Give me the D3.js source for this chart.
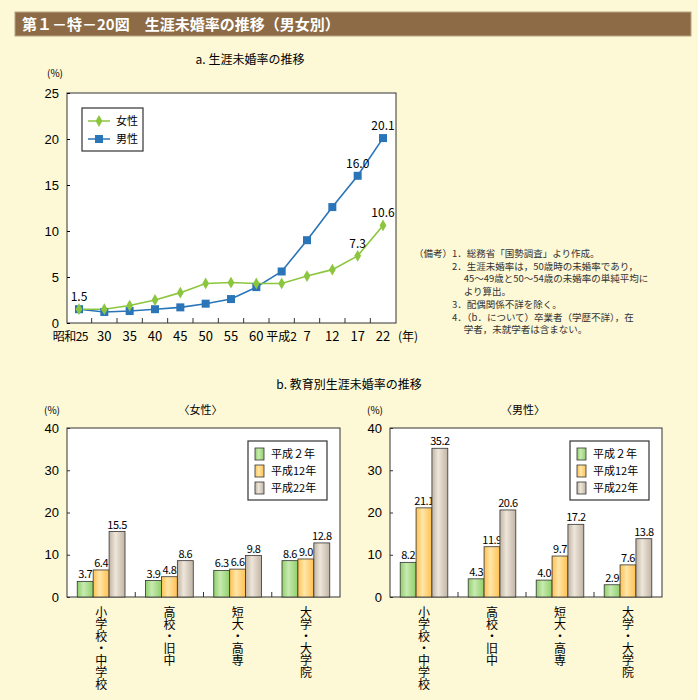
<!DOCTYPE html>
<html><head><meta charset="utf-8">
<script src="https://cdn.jsdelivr.net/npm/d3@7"></script>
<style>
body{margin:0;background:#fdf8d6;}
svg{font-family:"Noto Sans CJK JP","Noto Sans",sans-serif;}
</style></head>
<body><svg id="c" width="698" height="700"></svg>
<script>
const years = ["昭和25","30","35","40","45","50","55","60","平成2","7","12","17","22"];
const female = [1.5,1.5,1.9,2.5,3.3,4.3,4.4,4.3,4.3,5.1,5.8,7.3,10.6];
const male = [1.5,1.2,1.3,1.5,1.7,2.1,2.6,3.9,5.6,9.0,12.6,16.0,20.1];
const eduCats = ["小学校・中学校","高校・旧中","短大・高専","大学・大学院"];
const barSeries = ["平成２年","平成12年","平成22年"];
const femaleEdu = [[3.7,6.4,15.5],[3.9,4.8,8.6],[6.3,6.6,9.8],[8.6,9.0,12.8]];
const maleEdu = [[8.2,21.1,35.2],[4.3,11.9,20.6],[4.0,9.7,17.2],[2.9,7.6,13.8]];
const noteLines = [
 ["（備考）","1．総務省「国勢調査」より作成。"],
 ["","2．生涯未婚率は，50歳時の未婚率であり，"],
 ["","　 45～49歳と50～54歳の未婚率の単純平均に"],
 ["","　 より算出。"],
 ["","3．配偶関係不詳を除く。"],
 ["","4．（b．について）卒業者（学歴不詳），在"],
 ["","　 学者，未就学者は含まない。"]];

const svg = d3.select("#c");
const defs = svg.append("defs");
const barColors = [["#5a9a3a","#c8eab0","#8fcf6a"],["#e08a10","#ffe6a8","#ffc050"],["#7a6a58","#eee6da","#c0b4a4"]];
barColors.forEach((c,i)=>{
  const g = defs.append("linearGradient").attr("id","g"+i);
  g.append("stop").attr("offset","0%").attr("stop-color",c[2]);
  g.append("stop").attr("offset","40%").attr("stop-color",c[1]);
  g.append("stop").attr("offset","100%").attr("stop-color",c[2]);
});

// title bar
svg.append("rect").attr("x",15).attr("y",12).attr("width",676).attr("height",24).attr("fill","#8c6b46").attr("stroke","#b9a385");
svg.append("text").attr("x",22).attr("y",30).attr("fill","#fff").attr("font-size",15).attr("font-weight","bold")
  .text("第１－特－20図　生涯未婚率の推移（男女別）");

// ---- line chart
const lx = d3.scalePoint().domain(years).range([79,383]);
const ly = d3.scaleLinear().domain([0,25]).range([323,93]);
svg.append("text").attr("x",250).attr("y",64).attr("text-anchor","middle").attr("font-size",12).text("a.  生涯未婚率の推移");
svg.append("rect").attr("x",67).attr("y",93).attr("width",329).attr("height",230).attr("fill","#fff").attr("stroke","#333");
svg.append("text").attr("x",55).attr("y",77).attr("text-anchor","middle").attr("font-size",10).text("(%)");
svg.append("g").attr("transform","translate(67,0)").call(d3.axisLeft(ly).tickValues([0,5,10,15,20,25]).tickSize(3).tickSizeOuter(0))
  .call(g=>{g.select(".domain").remove();g.selectAll("line").attr("x1",0).attr("x2",3);g.selectAll("text").attr("font-size",13).attr("x",-8);});
const lxa = svg.append("g").attr("transform","translate(0,323)");
years.forEach((y,i)=>{
  if(i>0){const xx=(lx(years[i-1])+lx(y))/2; lxa.append("line").attr("x1",xx).attr("x2",xx).attr("y1",0).attr("y2",-5).attr("stroke","#333");}
  lxa.append("text").attr("x",i===0?lx(y)+9:lx(y)).attr("y",18).attr("text-anchor",i===0?"end":"middle")
    .attr("font-size",y.length>2?12:13).attr("letter-spacing",i===0?-0.5:0).text(y);
});
lxa.append("text").attr("x",408).attr("y",18).attr("text-anchor","middle").attr("font-size",12).text("(年)");
const line = d3.line().x((d,i)=>lx(years[i])).y(d=>ly(d));
svg.append("path").datum(male).attr("d",line).attr("fill","none").attr("stroke","#2a74b8").attr("stroke-width",1.6);
svg.append("path").datum(female).attr("d",line).attr("fill","none").attr("stroke","#8cc63f").attr("stroke-width",1.6);
svg.selectAll(".m").data(male).enter().append("rect").attr("x",(d,i)=>lx(years[i])-4).attr("y",d=>ly(d)-4).attr("width",8).attr("height",8).attr("fill","#2a74b8");
svg.selectAll(".f").data(female).enter().append("path").attr("transform",(d,i)=>`translate(${lx(years[i])},${ly(d)})`)
  .attr("d",d3.symbol(d3.symbolDiamond,40)).attr("fill","#8cc63f");
[[0,female[0]],[11,male[11]],[12,male[12]],[11,female[11]],[12,female[12]]].forEach(([i,v])=>{
  svg.append("text").attr("x",lx(years[i])).attr("y",ly(v)-8).attr("text-anchor","middle").attr("font-size",12).text(v.toFixed(1));
});
const lg = svg.append("g").attr("transform","translate(82,108)");
lg.append("rect").attr("width",61).attr("height",43).attr("fill","#fff").attr("stroke","#333").attr("stroke-width",1.2);
lg.append("line").attr("x1",6).attr("x2",28).attr("y1",13).attr("y2",13).attr("stroke","#8cc63f").attr("stroke-width",1.5);
lg.append("path").attr("transform","translate(17,13)").attr("d",d3.symbol(d3.symbolDiamond,40)).attr("fill","#8cc63f");
lg.append("text").attr("x",34).attr("y",17).attr("font-size",11).text("女性");
lg.append("line").attr("x1",6).attr("x2",28).attr("y1",31).attr("y2",31).attr("stroke","#2a74b8").attr("stroke-width",1.5);
lg.append("rect").attr("x",13).attr("y",27).attr("width",8).attr("height",8).attr("fill","#2a74b8");
lg.append("text").attr("x",34).attr("y",35).attr("font-size",11).text("男性");

// notes
noteLines.forEach((n,i)=>{
  svg.append("text").attr("x",414).attr("y",257+i*12.7).attr("font-size",9.5).attr("fill","#333").text(n[0]);
  svg.append("text").attr("x",452).attr("y",257+i*12.7).attr("font-size",9.5).attr("fill","#333").text(n[1]);
});

// ---- bar charts
svg.append("text").attr("x",349).attr("y",389).attr("text-anchor","middle").attr("font-size",12).text("b.  教育別生涯未婚率の推移");
function barChart(x0,x1,data,title){
  const y = d3.scaleLinear().domain([0,40]).range([597,428]);
  const x = d3.scaleBand().domain(eduCats).range([x0,x1]).paddingInner(0.3).paddingOuter(0.15);
  const xs = d3.scaleBand().domain(barSeries).range([0,x.bandwidth()]);
  svg.append("rect").attr("x",x0).attr("y",428).attr("width",x1-x0).attr("height",169).attr("fill","#fff").attr("stroke","#333");
  svg.append("text").attr("x",x0-15).attr("y",414).attr("text-anchor","middle").attr("font-size",10).text("(%)");
  svg.append("text").attr("x",(x0+x1)/2-3).attr("y",414).attr("text-anchor","middle").attr("font-size",11).text(title);
  svg.append("g").attr("transform",`translate(${x0},0)`).call(d3.axisLeft(y).tickValues([0,10,20,30,40]).tickSizeOuter(0))
    .call(g=>{g.select(".domain").remove();g.selectAll("line").attr("x1",0).attr("x2",3).attr("stroke","#333");g.selectAll("text").attr("font-size",13).attr("x",-8);});
  const step = (x1-x0)/4;
  for(let k=1;k<4;k++) svg.append("line").attr("x1",x0+k*step).attr("x2",x0+k*step).attr("y1",597).attr("y2",592).attr("stroke","#333");
  data.forEach((row,ci)=>{
    const c = eduCats[ci];
    row.forEach((v,si)=>{
      const bx = x(c)+xs(barSeries[si]);
      svg.append("rect").attr("x",bx).attr("y",y(v)).attr("width",xs.bandwidth()).attr("height",597-y(v))
        .attr("fill",`url(#g${si})`).attr("stroke","#333").attr("stroke-width",0.8);
      svg.append("text").attr("x",bx+xs.bandwidth()/2).attr("y",y(v)-3).attr("text-anchor","middle").attr("font-size",11).attr("letter-spacing",-0.5).text(v.toFixed(1));
    });
    svg.append("text").attr("x",x(c)+x.bandwidth()/2).attr("y",606).attr("font-size",12)
      .style("writing-mode","vertical-rl").style("glyph-orientation-vertical","0").text(c);
  });
  const lg = svg.append("g").attr("transform",`translate(${x1-92},441)`);
  lg.append("rect").attr("width",79).attr("height",59).attr("fill","#fff").attr("stroke","#333").attr("stroke-width",1.2);
  barSeries.forEach((s,i)=>{
    lg.append("rect").attr("x",7).attr("y",7+i*17).attr("width",9).attr("height",12).attr("fill",`url(#g${i})`).attr("stroke","#333").attr("stroke-width",0.8);
    lg.append("text").attr("x",23).attr("y",17+i*17).attr("font-size",11).text(s);
  });
}
barChart(67,340,femaleEdu,"〈女性〉");
barChart(390,662,maleEdu,"〈男性〉");
</script></body></html>
